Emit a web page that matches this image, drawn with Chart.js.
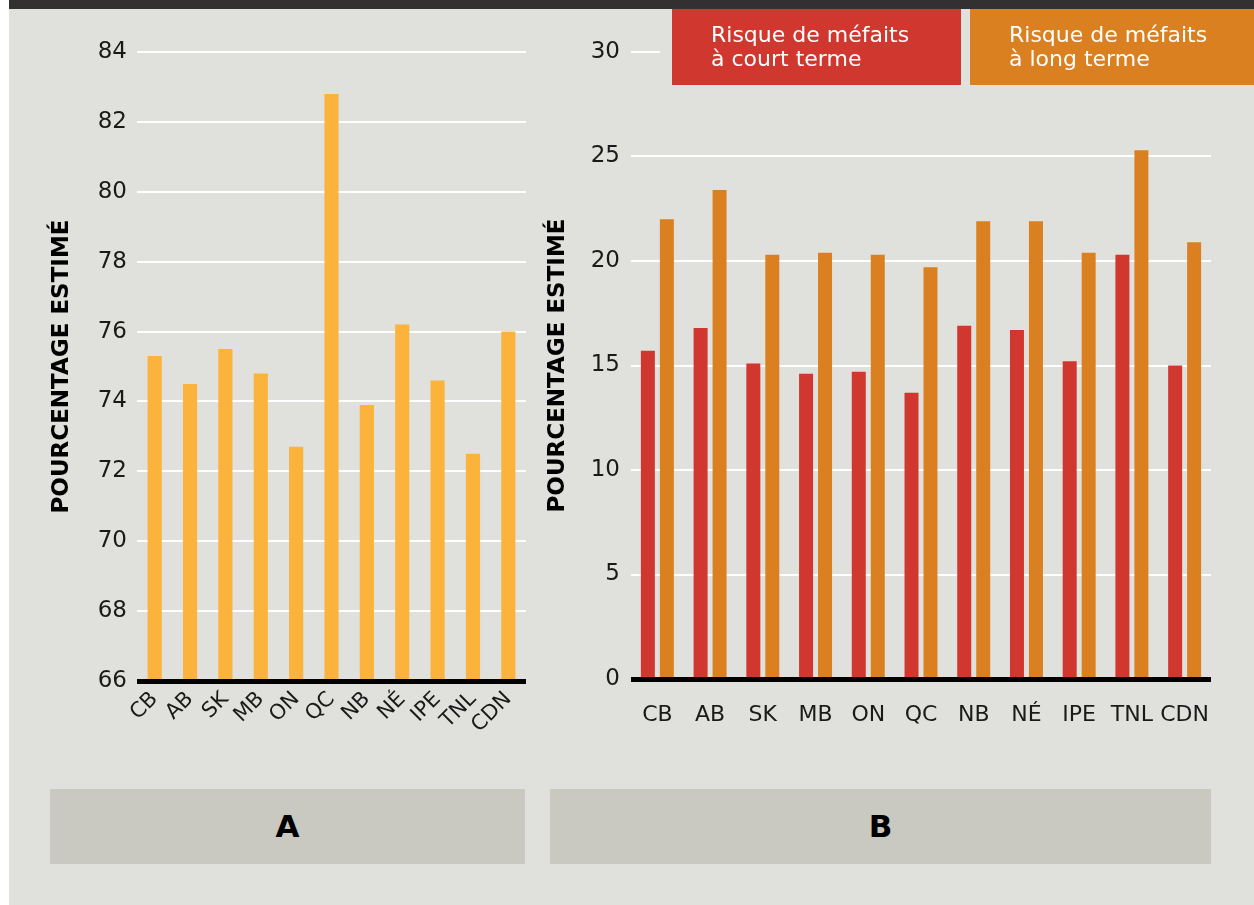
<!DOCTYPE html>
<html>
<head>
<meta charset="utf-8">
<script src="https://cdn.jsdelivr.net/npm/chart.js@4.4.1/dist/chart.umd.min.js"></script>
<style>
  html, body { margin: 0; padding: 0; background: #ffffff; }
  #page { position: relative; width: 1254px; height: 905px; overflow: hidden; }
  #panel { position: absolute; left: 9px; top: 0; width: 1245px; height: 905px; background: #e0e0dc; }
  #topbar { position: absolute; left: 9px; top: 0; width: 1245px; height: 9px; background: #333032; }
  #wrapA { position: absolute; left: 0; top: 0; width: 540px; height: 780px; }
  #wrapB { position: absolute; left: 540px; top: 0; width: 714px; height: 780px; }
  .tag { position: absolute; top: 789px; height: 75px; background: #c9c9c1; color: #000;
         font-family: "DejaVu Sans", sans-serif; font-weight: bold; font-size: 31px;
         line-height: 75px; text-align: center; }
</style>
</head>
<body>
<div id="page">
  <div id="panel"></div>
  <div id="topbar"></div>
  <div id="wrapA"><canvas id="chartA"></canvas></div>
  <div id="wrapB"><canvas id="chartB"></canvas></div>
  <div class="tag" style="left:50px; width:475px;">A</div>
  <div class="tag" style="left:550px; width:661px;">B</div>
</div>
<script>
// values
const provinces = ["CB", "AB", "SK", "MB", "ON", "QC", "NB", "NÉ", "IPE", "TNL", "CDN"];
const estimatedPct = [75.3, 74.5, 75.5, 74.8, 72.7, 82.8, 73.9, 76.2, 74.6, 72.5, 76.0];
const shortTermRisk = [15.7, 16.8, 15.1, 14.6, 14.7, 13.7, 16.9, 16.7, 15.2, 20.3, 15.0];
const longTermRisk = [22.0, 23.4, 20.3, 20.4, 20.3, 19.7, 21.9, 21.9, 20.4, 25.3, 20.9];
const shortLabel = ["Risque de méfaits", "à court terme"];
const longLabel = ["Risque de méfaits", "à long terme"];
const axisTitle = "POURCENTAGE ESTIMÉ";
const rangeA = [66, 84, 2];
const rangeB = [0, 30, 5];

const bg = "#e0e0dc";
const yellow = "#fbb33b";
const red = "#d0372f";
const orange = "#db8020";
const fontFam = "'DejaVu Sans', sans-serif";

Chart.defaults.font.family = fontFam;
Chart.defaults.color = "#1a1a1a";

// redraw the black base line on top of the bars
const baseLine = {
  id: "baseLine",
  afterDatasetsDraw(chart) {
    const a = chart.chartArea;
    const ctx = chart.ctx;
    ctx.save();
    ctx.fillStyle = "#000";
    ctx.fillRect(a.left, a.bottom - 2, a.right - a.left, 5);
    ctx.restore();
  }
};

// ******* Chart A *******
var canvasElement = document.getElementById("chartA");
var config = {
  type: "bar",
  data: {
    labels: provinces,
    datasets: [{ label: axisTitle, data: estimatedPct, backgroundColor: yellow,
                 barPercentage: 0.4, categoryPercentage: 1 }]
  },
  options: {
    responsive: true,
    maintainAspectRatio: false,
    animation: false,
    layout: { padding: { left: 0, top: 52, right: 14, bottom: 0 } },
    plugins: { legend: { display: false }, tooltip: { enabled: false } },
    scales: {
      x: {
        grid: { display: false, drawTicks: false },
        border: { display: false },
        ticks: { minRotation: 45, maxRotation: 45, padding: 6, font: { size: 21 }, autoSkip: false },
        afterFit: function (s) { s.height = 99; }
      },
      y: {
        min: rangeA[0], max: rangeA[1],
        grid: { color: "#ffffff", lineWidth: 2, drawTicks: false },
        border: { display: false },
        ticks: { stepSize: rangeA[2], padding: 10, font: { size: 23 } },
        title: { display: true, text: axisTitle, font: { size: 23, weight: "bold" },
                 color: "#000", padding: { top: 48, bottom: 0 } },
        afterFit: function (s) { s.width = 137; }
      }
    }
  },
  plugins: [baseLine]
};
var chartA = new Chart(canvasElement, config);

// ******* Chart B *******
const boxLegend = {
  id: "boxLegend",
  afterDraw(chart) {
    const ctx = chart.ctx;
    ctx.save();
    ctx.fillStyle = bg;
    ctx.fillRect(120, 40, 600, 24);
    const boxes = [[132, 289], [430, 290]];
    chart.data.datasets.forEach(function (ds, i) {
      ctx.fillStyle = ds.backgroundColor;
      ctx.fillRect(boxes[i][0], 9, boxes[i][1], 76);
      ctx.fillStyle = "#ffffff";
      ctx.font = "22px " + fontFam;
      ctx.textBaseline = "alphabetic";
      ds.label.forEach(function (line, j) {
        ctx.fillText(line, boxes[i][0] + 39, 42 + j * 24);
      });
    });
    ctx.restore();
  }
};

var canvasElement = document.getElementById("chartB");
var config = {
  type: "bar",
  data: {
    labels: provinces,
    datasets: [
      { label: shortLabel, data: shortTermRisk, backgroundColor: red,
        barPercentage: 0.737, categoryPercentage: 0.72 },
      { label: longLabel, data: longTermRisk, backgroundColor: orange,
        barPercentage: 0.737, categoryPercentage: 0.72 }
    ]
  },
  options: {
    responsive: true,
    maintainAspectRatio: false,
    animation: false,
    layout: { padding: { left: 0, top: 52, right: 43, bottom: 0 } },
    plugins: { legend: { display: false }, tooltip: { enabled: false } },
    scales: {
      x: {
        grid: { display: false, drawTicks: false },
        border: { display: false },
        ticks: { maxRotation: 0, minRotation: 0, padding: 23, font: { size: 22 }, autoSkip: false },
        afterFit: function (s) { s.height = 101; }
      },
      y: {
        min: rangeB[0], max: rangeB[1],
        grid: { color: "#ffffff", lineWidth: 2, drawTicks: false },
        border: { display: false },
        ticks: { stepSize: rangeB[2], padding: 11, font: { size: 23 } },
        title: { display: true, text: axisTitle, font: { size: 23, weight: "bold" },
                 color: "#000", padding: { top: 4, bottom: 0 } },
        afterFit: function (s) { s.width = 91; }
      }
    }
  },
  plugins: [baseLine, boxLegend]
};
var chartB = new Chart(canvasElement, config);
</script>
</body>
</html>
